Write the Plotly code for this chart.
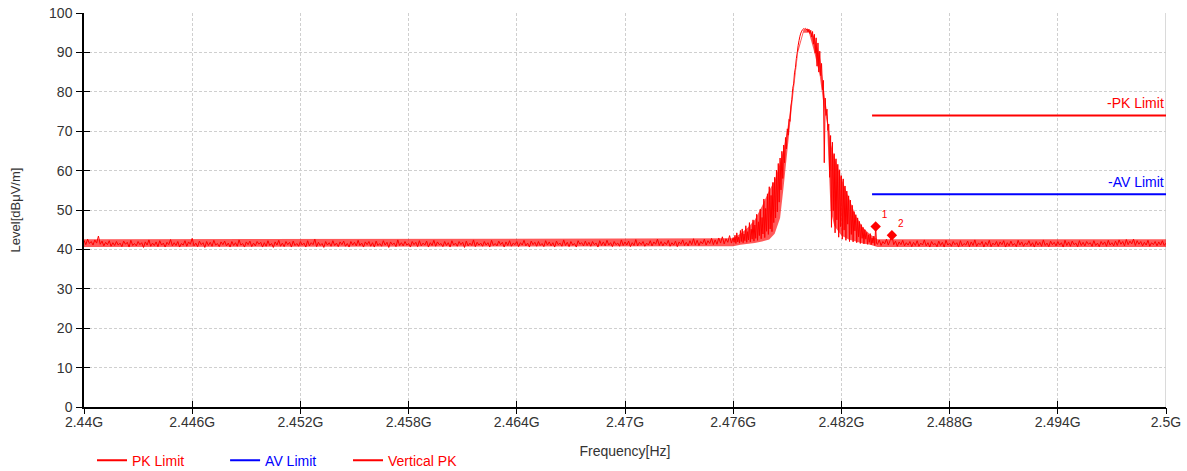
import numpy as np
import plotly.graph_objects as go

# ---- datos (niveles en dBuV/m) ----
# piso de ruido izquierdo: 2440.0 - 2476.0 MHz, paso 0.1 MHz
nivel_izq = [
    42.3, 41.2, 42.6, 41.5, 42.0, 41.1, 42.4, 41.6, 43.4, 41.3, 42.1, 40.9, 41.8, 41.2, 42.2, 40.8, 41.7, 41.0, 42.0, 41.1,
    41.6, 40.7, 42.1, 41.3, 41.8, 40.6, 42.3, 41.0, 41.5, 40.9, 42.0, 41.2, 41.7, 40.5, 41.9, 41.1, 42.4, 40.8, 41.6, 41.0,
    41.9, 40.7, 42.2, 41.1, 41.6, 40.6, 41.8, 41.2, 42.5, 40.9, 41.7, 41.0, 42.0, 40.6, 41.5, 41.1, 42.2, 40.8, 41.9, 41.3,
    42.8, 40.9, 41.6, 40.7, 42.1, 41.2, 41.7, 40.5, 42.0, 41.0, 41.8, 40.8, 42.3, 41.1, 41.5, 40.7, 41.9, 41.2, 42.1, 40.9,
    41.6, 40.6, 42.0, 41.0, 41.7, 40.8, 42.4, 41.1, 41.5, 40.6, 41.9, 41.2, 42.1, 40.7, 41.6, 40.9, 42.0, 41.3, 41.8, 40.6,
    41.7, 40.8, 42.2, 41.0, 41.5, 40.5, 41.9, 41.1, 42.3, 40.8, 41.6, 40.7, 42.0, 41.2, 41.8, 40.6, 42.1, 41.0, 41.5, 40.8,
    42.0, 41.1, 41.6, 40.6, 42.2, 40.9, 41.7, 41.2, 42.6, 40.7, 41.8, 41.0, 41.5, 40.5, 42.0, 41.1, 41.7, 40.8, 42.2, 41.0,
    41.6, 40.7, 41.9, 41.2, 42.1, 40.8, 41.5, 40.6, 42.0, 41.1, 41.8, 40.9, 42.3, 41.0, 41.6, 40.6, 41.9, 41.2, 42.0, 40.8,
    41.7, 40.6, 42.1, 41.0, 41.5, 40.8, 42.2, 41.1, 41.8, 40.5, 41.9, 41.2, 41.6, 40.7, 42.4, 41.0, 41.7, 40.9, 42.0, 41.1,
    41.5, 40.6, 42.0, 41.2, 41.8, 40.7, 42.2, 40.9, 41.6, 41.1, 42.1, 40.6, 41.7, 41.0, 42.3, 40.8, 41.9, 41.2, 41.5, 40.7,
    42.0, 41.0, 41.7, 40.6, 42.2, 41.1, 41.6, 40.8, 42.0, 41.2, 41.8, 40.5, 42.1, 40.9, 41.6, 41.0, 42.4, 40.7, 41.8, 41.1,
    41.6, 40.8, 42.0, 41.1, 41.7, 40.6, 42.3, 41.0, 41.5, 40.9, 42.1, 41.2, 41.8, 40.6, 41.9, 41.0, 42.2, 40.8, 41.6, 41.2,
    42.0, 40.7, 41.7, 41.1, 42.3, 40.9, 41.6, 40.6, 42.1, 41.2, 41.8, 40.8, 42.0, 41.0, 41.5, 40.7, 42.2, 41.1, 41.9, 40.9,
    41.7, 40.6, 42.1, 41.2, 41.6, 40.8, 42.4, 41.0, 41.8, 40.7, 42.0, 41.1, 41.5, 40.6, 42.2, 41.3, 41.7, 40.9, 42.1, 41.0,
    41.8, 40.8, 42.0, 41.2, 41.6, 40.6, 42.2, 41.0, 41.9, 40.9, 42.3, 41.1, 41.7, 40.7, 42.0, 41.2, 41.6, 40.8, 42.4, 41.0,
    41.9, 41.1, 42.1, 40.7, 41.7, 41.0, 42.5, 40.9, 41.8, 41.2, 42.0, 40.8, 41.6, 41.1, 42.2, 40.9, 41.9, 41.3, 42.6, 41.0,
    42.0, 40.9, 41.8, 41.2, 42.3, 40.8, 41.7, 41.1, 42.1, 40.7, 41.9, 41.3, 42.4, 41.0, 41.8, 40.9, 42.2, 41.2, 42.7, 41.1,
    42.3, 41.0, 42.0, 41.4, 42.6, 41.1, 42.2, 41.5, 42.8, 41.2, 42.4, 41.3, 42.9, 41.6, 43.2, 41.4, 42.7, 41.8, 43.5, 41.6,
    43.0,
]

# zona de la portadora: 2476.05 - 2483.95 MHz, paso 0.05 MHz
nivel_senal = [
    41.8, 43.6, 41.5, 44.2, 41.9, 43.1, 41.6, 44.8,
    42.0, 45.2, 41.7, 43.9, 42.2, 46.0, 41.8, 44.5,
    42.4, 46.8, 41.9, 45.1, 42.6, 47.5, 42.1, 46.2,
    42.8, 48.9, 42.3, 47.0, 43.5, 50.2, 42.7, 48.1,
    43.9, 52.8, 43.0, 50.4, 44.6, 54.1, 43.8, 55.9,
    45.2, 53.7, 44.5, 57.0, 46.8, 58.3, 48.0, 60.1,
    49.5, 61.8, 52.0, 63.2, 55.1, 64.9, 58.0, 66.5,
    62.0, 68.4, 65.5, 70.6, 69.0, 73.0, 72.5, 76.4,
    78.0, 80.9, 82.0, 84.8, 86.1, 88.4, 89.9, 91.7,
    93.0, 94.1, 94.9, 95.4, 95.8, 96.0, 95.9, 96.1,
    95.7, 96.0, 95.2, 95.9, 94.8, 95.6, 93.9, 95.3,
    92.1, 94.6, 89.8, 93.7, 86.5, 92.4, 85.0, 90.3,
    84.1, 87.2, 80.5, 82.9, 62.0, 78.4, 74.0, 75.6,
    70.2, 71.8, 58.3, 68.9, 45.6, 67.2, 49.8, 64.3,
    44.2, 63.0, 47.5, 61.6, 43.1, 60.2, 45.8, 58.7,
    42.6, 57.9, 44.9, 56.1, 42.3, 54.8, 46.4, 53.6,
    42.0, 52.5, 43.8, 51.2, 41.9, 49.6, 44.7, 48.8,
    41.7, 48.0, 43.2, 47.1, 41.5, 46.3, 42.8, 45.6,
    41.4, 45.0, 42.6, 44.3, 41.3, 43.7, 41.8, 44.0,
    41.2, 42.9, 41.6, 43.4, 41.0, 45.8, 41.5,
]

# piso de ruido derecho: 2484.0 - 2500.0 MHz, paso 0.1 MHz
nivel_der = [
    41.3, 42.4, 41.0, 42.0, 41.4, 42.6, 41.1, 42.2, 43.6, 41.2, 42.1, 40.8, 41.9, 41.2, 42.3, 40.9, 41.7, 41.1, 42.0, 40.7,
    41.8, 41.0, 42.2, 40.8, 41.6, 41.1, 42.4, 40.9, 41.7, 40.6, 42.0, 41.2, 41.5, 40.7, 42.1, 41.0, 41.8, 40.6, 42.3, 41.1,
    41.6, 40.8, 42.0, 41.2, 41.7, 40.6, 42.2, 40.9, 41.5, 41.1, 42.1, 40.7, 41.9, 41.0, 42.4, 40.8, 41.6, 41.2, 42.0, 40.6,
    41.8, 41.0, 42.3, 40.7, 41.6, 41.1, 42.0, 40.8, 41.9, 41.2, 42.2, 40.6, 41.7, 40.9, 42.1, 41.0, 41.5, 40.7, 42.3, 41.1,
    41.9, 40.8, 41.6, 41.2, 42.2, 40.9, 41.7, 40.6, 42.0, 41.1, 41.8, 40.8, 42.4, 41.0, 41.6, 40.7, 42.1, 41.2, 41.8, 40.9,
    42.0, 41.1, 41.7, 40.6, 42.3, 41.0, 41.9, 40.8, 42.1, 41.2, 41.6, 40.7, 42.2, 41.0, 41.8, 40.9, 42.0, 41.3, 41.7, 40.8,
    42.2, 41.0, 41.6, 40.7, 42.0, 41.2, 41.9, 40.8, 42.3, 41.1, 41.7, 40.9, 42.1, 41.0, 42.4, 41.3, 42.0, 40.9, 42.5, 41.2,
    42.1, 41.4, 42.6, 41.0, 42.2, 41.3, 42.0, 40.9, 41.8, 41.1, 42.3, 40.8, 41.7, 41.2, 42.0, 40.9, 41.9, 41.1, 42.2, 41.0,
    41.6,
]

# envolvente de la traza (barrido denso), MHz / dBuV/m
env_f = [2440.0, 2476.0, 2476.4, 2476.8, 2477.2, 2477.6, 2478.0, 2478.3, 2478.6, 2478.8, 2479.0,
         2479.3, 2479.6, 2479.9, 2480.2, 2480.5, 2480.8, 2481.0, 2481.2, 2481.4, 2481.6, 2482.0,
         2482.4, 2482.8, 2483.2, 2483.6, 2484.0, 2500.0]
env_sup = [42.6, 42.8, 44.0, 45.5, 47.5, 51.0, 55.0, 57.5, 62.0, 65.5, 70.5,
           80.0, 91.0, 95.8, 95.8, 94.0, 89.0, 81.0, 74.5, 67.0, 63.5, 58.0,
           53.0, 48.5, 45.5, 43.8, 42.6, 42.6]
env_inf = [40.6, 40.8, 41.2, 41.4, 41.6, 42.0, 42.5, 44.0, 48.0, 56.0, 65.0,
           78.0, 90.0, 95.0, 95.0, 90.0, 84.0, 77.0, 72.0, 50.0, 46.0, 43.5,
           42.5, 42.0, 41.5, 41.2, 40.6, 40.6]

# limites (GHz, dBuV/m)
limite_x = [2.4837, 2.5]
limite_pk = [74, 74]
limite_av = [54, 54]

# marcadores
marcador_f = [2.4839, 2.4848]
marcador_nivel = [45.8, 43.6]
marcador_txt = ["1", "2"]

tick_vals = [2.44, 2.446, 2.452, 2.458, 2.464, 2.47, 2.476, 2.482, 2.488, 2.494, 2.5]
tick_txt = ["2.44G", "2.446G", "2.452G", "2.458G", "2.464G", "2.47G", "2.476G", "2.482G", "2.488G", "2.494G", "2.5G"]

# eje de frecuencias (GHz)
f_izq = np.round(2440.0 + 0.1 * np.arange(len(nivel_izq)), 3)
f_sen = np.round(2476.05 + 0.05 * np.arange(len(nivel_senal)), 3)
f_der = np.round(2484.0 + 0.1 * np.arange(len(nivel_der)), 3)
frecuencia = np.concatenate([f_izq, f_sen, f_der]) / 1000
nivel = nivel_izq + nivel_senal + nivel_der
env_ghz = np.array(env_f) / 1000

ROJO = "#ff0000"
AZUL = "#0000ff"
FUENTE = "Liberation Sans, Arial, sans-serif"
GRIS = "#333333"

fig = go.Figure()

# banda de la envolvente (da el aspecto denso del barrido)
fig.add_trace(go.Scatter(x=env_ghz, y=env_inf, mode="lines", line=dict(width=0),
                         showlegend=False, hoverinfo="skip"))
fig.add_trace(go.Scatter(x=env_ghz, y=env_sup, mode="lines", line=dict(width=0),
                         fill="tonexty", fillcolor="rgba(255,0,0,0.65)",
                         showlegend=False, hoverinfo="skip"))

fig.add_trace(go.Scatter(
    x=limite_x, y=limite_pk, mode="lines", line=dict(color=ROJO, width=2),
    name=f"<span style='color:{ROJO}'>PK Limit</span>", legend="legend",
))
fig.add_trace(go.Scatter(
    x=limite_x, y=limite_av, mode="lines", line=dict(color=AZUL, width=2),
    name=f"<span style='color:{AZUL}'>AV Limit</span>", legend="legend2",
))
fig.add_trace(go.Scatter(
    x=frecuencia, y=nivel, mode="lines", line=dict(color=ROJO, width=1, simplify=False),
    showlegend=False,
))
# entrada de leyenda de la traza con el mismo grosor que las demas
fig.add_trace(go.Scatter(
    x=[None], y=[None], mode="lines", line=dict(color=ROJO, width=2),
    name=f"<span style='color:{ROJO}'>Vertical PK</span>", legend="legend3",
))
fig.add_trace(go.Scatter(
    x=marcador_f, y=marcador_nivel, mode="markers+text",
    marker=dict(symbol="diamond", size=8, color=ROJO),
    text=marcador_txt, textposition="top right",
    textfont=dict(size=10, color=ROJO, family=FUENTE),
    showlegend=False,
))
# ejes auxiliares: marcas de tick hacia dentro (x2/y2) y hacia fuera (x3/y3)
fig.add_trace(go.Scatter(x=[None], y=[None], xaxis="x2", yaxis="y2", showlegend=False))
fig.add_trace(go.Scatter(x=[None], y=[None], xaxis="x3", yaxis="y3", showlegend=False))

fig.add_annotation(x=2.5, y=74, text="-PK Limit", showarrow=False, xanchor="right",
                   yanchor="bottom", yshift=2, font=dict(size=14, color=ROJO, family=FUENTE))
fig.add_annotation(x=2.5, y=54, text="-AV Limit", showarrow=False, xanchor="right",
                   yanchor="bottom", yshift=2, font=dict(size=14, color=AZUL, family=FUENTE))

fig.add_shape(type="line", x0=2.5, x1=2.5, y0=0, y1=100, xref="x", yref="y",
              line=dict(color="#b4b4b4", width=1), layer="below")

eje_x = dict(range=[2.44, 2.5], tickvals=tick_vals, ticktext=tick_txt, automargin=False,
             showline=True, linecolor="black", linewidth=1.5, ticklabeloverflow="allow",
             ticks="outside", ticklen=1, tickcolor="rgba(0,0,0,0)",
             showgrid=True, gridcolor="#cfcfcf", griddash="3px,2px", gridwidth=1,
             zeroline=False, tickfont=dict(size=14, color=GRIS, family=FUENTE),
             title=dict(text="Frequency[Hz]", font=dict(size=14, color=GRIS, family=FUENTE), standoff=18))
eje_y = dict(range=[0, 100], dtick=10, tick0=0, automargin=False,
             showline=True, linecolor="black", linewidth=1.5, ticklabeloverflow="allow",
             ticks="outside", ticklen=7, tickcolor="rgba(0,0,0,0)",
             showgrid=True, gridcolor="#cfcfcf", griddash="3px,2px", gridwidth=1,
             zeroline=False, tickfont=dict(size=14, color=GRIS, family=FUENTE),
             title=dict(text="Level[dBμV/m]", font=dict(size=13, color=GRIS, family=FUENTE), standoff=26))

aux_x = dict(overlaying="x", range=[2.44, 2.5], tickvals=tick_vals, showticklabels=False,
             ticklen=6, tickcolor="black", showgrid=False, zeroline=False,
             side="bottom", showline=False, automargin=False)
aux_y = dict(overlaying="y", range=[0, 100], dtick=10, showticklabels=False,
             ticklen=7, tickcolor="black", showgrid=False, zeroline=False,
             side="left", showline=False, automargin=False)

leyenda = dict(orientation="h", yanchor="middle", y=-0.136, xanchor="left",
               font=dict(size=14, family=FUENTE), bgcolor="rgba(0,0,0,0)", itemwidth=30)

fig.update_layout(
    width=1187, height=471,
    margin=dict(l=84, r=21, t=13, b=64, autoexpand=False),
    paper_bgcolor="white", plot_bgcolor="white",
    font=dict(family=FUENTE),
    xaxis=eje_x, yaxis=eje_y,
    xaxis2=dict(aux_x, ticks="inside"),
    yaxis2=dict(aux_y, ticks="inside", ticklen=6),
    xaxis3=dict(aux_x, ticks="outside"),
    yaxis3=dict(aux_y, ticks="outside"),
    legend=dict(leyenda, x=0.0074),
    legend2=dict(leyenda, x=0.1304),
    legend3=dict(leyenda, x=0.244),
)

# sin el margen por defecto del body, la figura ocupa la ventana completa
fig.write_html("out.html", config={"displayModeBar": False},
               post_script="document.body.style.margin='0';")
